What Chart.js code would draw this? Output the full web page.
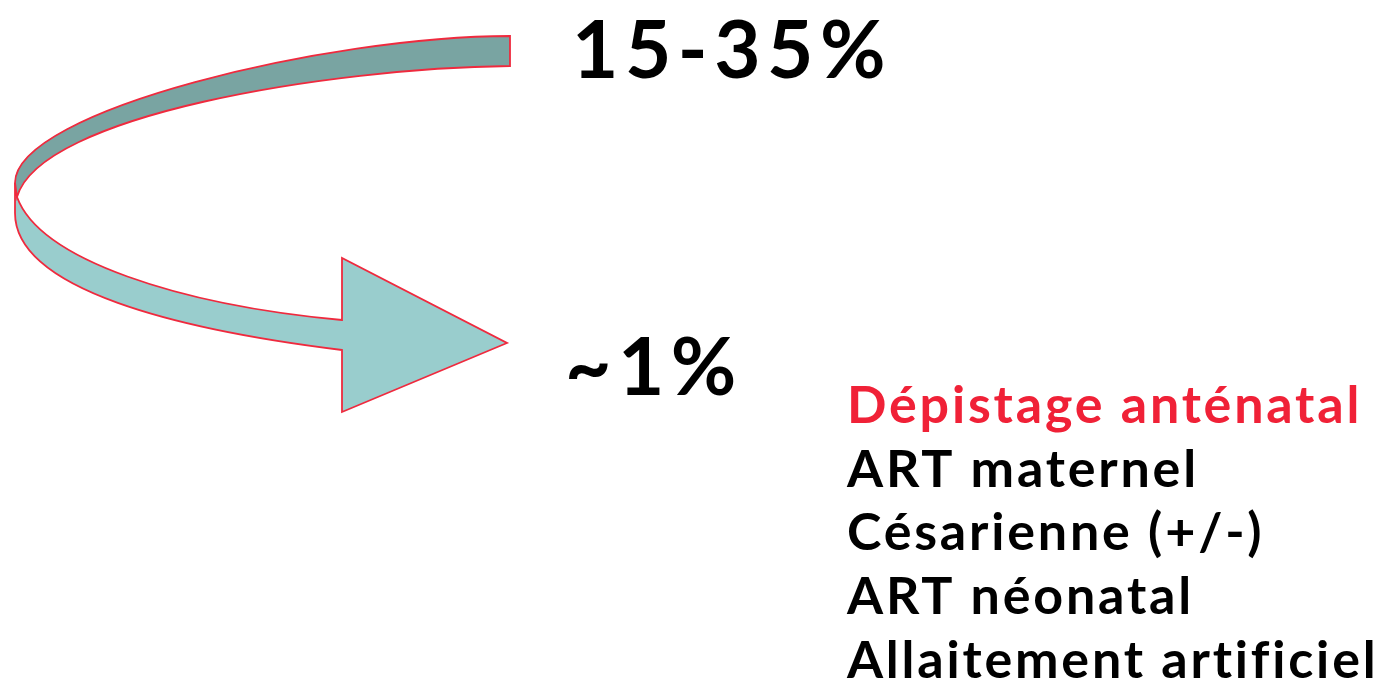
<!DOCTYPE html>
<html>
<head>
<meta charset="utf-8">
<script src="https://cdn.jsdelivr.net/npm/chart.js@4"></script>
<style>
    html, body { margin: 0; padding: 0; background: #ffffff; }
    #wrap { width: 1394px; height: 682px; }
</style>
</head>
<body>
<div id="wrap"><canvas id="slideChart"></canvas></div>
<script>
// transmission rate before / after prevention
const transmissionRates = ['15-35%', '~1%'];
// prevention measures
const interventions = ['Dépistage anténatal', 'ART maternel', 'Césarienne (+/-)', 'ART néonatal', 'Allaitement artificiel'];

const FONT = "'Comic Sans MS', Lato, 'DejaVu Sans', sans-serif";

document.addEventListener('DOMContentLoaded', function () {
    const ctx = document.getElementById('slideChart').getContext('2d');

    // draws the U-turn arrow and the texts, positioned through the chart's scales
    const slidePlugin = {
        id: 'slide',
        afterDraw: function (chart) {
            const c = chart.ctx;
            const sx = chart.scales.x, sy = chart.scales.y;
            const P = (x, y) => [sx.getPixelForValue(x), sy.getPixelForValue(y)];
            const mv = (x, y) => { const p = P(x, y); c.moveTo(p[0], p[1]); };
            const ln = (x, y) => { const p = P(x, y); c.lineTo(p[0], p[1]); };
            const bz = (a, b, d, e, f, g) => {
                const p1 = P(a, b), p2 = P(d, e), p3 = P(f, g);
                c.bezierCurveTo(p1[0], p1[1], p2[0], p2[1], p3[0], p3[1]);
            };

            c.save();
            c.lineJoin = 'miter';
            c.lineWidth = 1.8;
            c.strokeStyle = '#ef2a3e';

            // lower band + head
            c.beginPath();
            mv(15, 183);
            ln(15, 213);
            bz(15, 290, 180, 330, 342, 350);
            ln(342, 412);
            ln(507, 343);
            ln(342, 258);
            ln(342, 320);
            bz(180, 305, 40, 260, 17, 197);
            c.closePath();
            c.fillStyle = '#99cdcd';
            c.fill();
            c.stroke();

            // upper band (back side)
            c.beginPath();
            mv(510, 36);
            bz(330, 36, 15, 110, 15, 183);
            ln(17, 197);
            bz(40, 115, 330, 68, 510, 66);
            c.closePath();
            c.fillStyle = '#79a4a2';
            c.fill();
            c.stroke();

            // rates
            c.fillStyle = '#000000';
            c.textBaseline = 'alphabetic';
            c.font = 'bold 80px ' + FONT;
            c.letterSpacing = '6.5px';
            let p = P(572, 78);
            c.fillText(transmissionRates[0], p[0], p[1]);
            p = P(565, 395);
            c.fillText(transmissionRates[1], p[0], p[1]);

            // interventions
            c.font = 'bold 52px ' + FONT;
            c.letterSpacing = '2.8px';
            interventions.forEach(function (t, i) {
                c.fillStyle = i === 0 ? '#f02137' : '#000000';
                const q = P(847, 423 + i * 63.7);
                c.fillText(t, q[0], q[1]);
            });
            c.restore();
        }
    };

    new Chart(ctx, {
        type: 'scatter',
        data: { datasets: [{ data: [] }] },
        options: {
            responsive: true,
            maintainAspectRatio: false,
            animation: false,
            layout: { padding: 0 },
            plugins: { legend: { display: false }, tooltip: { enabled: false } },
            scales: {
                x: { type: 'linear', min: 0, max: 1394, display: false },
                y: { type: 'linear', min: 0, max: 682, reverse: true, display: false }
            }
        },
        plugins: [slidePlugin]
    });
});
</script>
</body>
</html>
